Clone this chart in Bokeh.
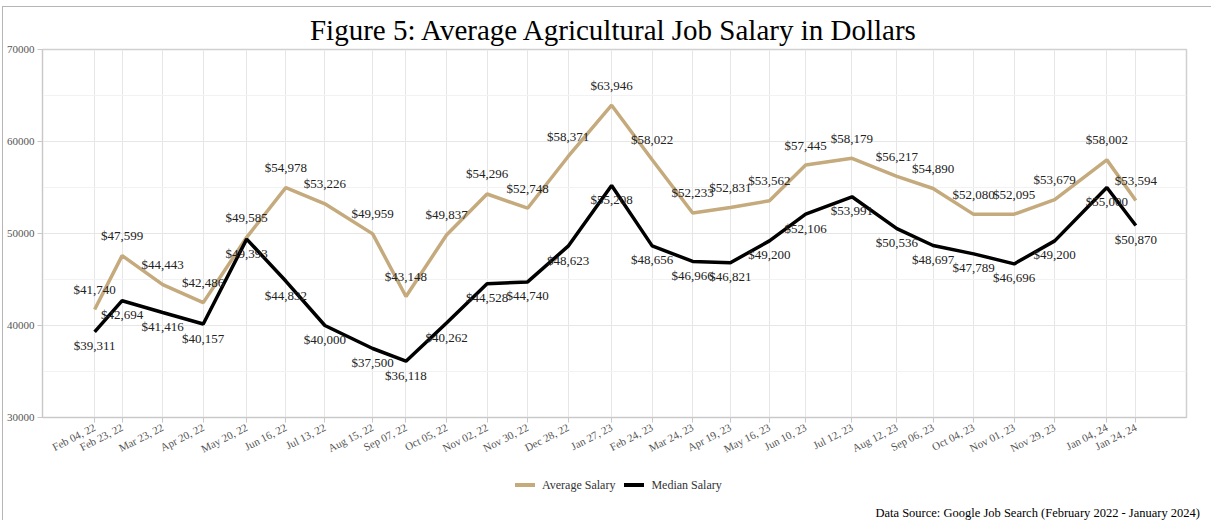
import pandas as pd
from bokeh.plotting import figure
from bokeh.layouts import column
from bokeh.models import (ColumnDataSource, FixedTicker, DatetimeTickFormatter, Range1d,
                          Div, SingleIntervalTicker)
from bokeh.core.properties import value
from bokeh.embed import file_html
from bokeh.resources import INLINE

dates = ["2022-02-04", "2022-02-23", "2022-03-23", "2022-04-20", "2022-05-20", "2022-06-16",
         "2022-07-13", "2022-08-15", "2022-09-07", "2022-10-05", "2022-11-02", "2022-11-30",
         "2022-12-28", "2023-01-27", "2023-02-24", "2023-03-24", "2023-04-19", "2023-05-16",
         "2023-06-10", "2023-07-12", "2023-08-12", "2023-09-06", "2023-10-04", "2023-11-01",
         "2023-11-29", "2024-01-04", "2024-01-24"]
average_salary = [41740, 47599, 44443, 42486, 49585, 54978, 53226, 49959, 43148, 49837, 54296,
                  52748, 58371, 63946, 58022, 52233, 52831, 53562, 57445, 58179, 56217, 54890,
                  52080, 52095, 53679, 58002, 53594]
median_salary = [39311, 42694, 41416, 40157, 49393, 44832, 40000, 37500, 36118, 40262, 44528,
                 44740, 48623, 55208, 48656, 46966, 46821, 49200, 52106, 53991, 50536, 48697,
                 47789, 46696, 49200, 55000, 50870]
series_names = ["Average Salary", "Median Salary"]
title_text = "Figure 5: Average Agricultural Job Salary in Dollars"
source_text = "Data Source: Google Job Search (February 2022 - January 2024)"

FONT = "Liberation Serif"
AVG_COLOR = "#c4aa7c"
MED_COLOR = "#000000"
LINE_W = 3.5
colors = [AVG_COLOR, MED_COLOR]

x = pd.to_datetime(dates)
src = ColumnDataSource(dict(
    x=x, avg=average_salary, med=median_salary,
    avg_lbl=[f"${v:,}" for v in average_salary],
    med_lbl=[f"${v:,}" for v in median_salary],
))

x_start = x[0] - pd.Timedelta(days=36)
x_end = x[-1] + pd.Timedelta(days=35)

W = 1208
p = figure(width=W, height=458, output_backend="svg", toolbar_location=None,
           x_axis_type="datetime",
           x_range=Range1d(x_start, x_end), y_range=Range1d(30000, 70000),
           min_border_left=39, min_border_right=25, min_border_top=42, min_border_bottom=48)

p.title.text = title_text
p.title.text_font = FONT
p.title.text_font_size = "29px"
p.title.text_font_style = "normal"
p.title.text_color = "#000000"
p.title.align = "center"
p.title.standoff = 7

p.outline_line_color = "#d0d0d0"
p.outline_line_width = 1.5

# axes
p.xaxis.ticker = FixedTicker(ticks=[d.value / 1e6 for d in x])
fmt = "%b %d, %y"
p.xaxis.formatter = DatetimeTickFormatter(milliseconds=fmt, seconds=fmt, minsec=fmt, minutes=fmt,
                                          hourmin=fmt, hours=fmt, days=fmt, months=fmt, years=fmt)
p.xaxis.major_label_orientation = 0.47
p.yaxis.ticker = SingleIntervalTicker(interval=10000, num_minor_ticks=2)
for ax in (p.xaxis, p.yaxis):
    ax.axis_line_color = "#c8c8c8"
    ax.major_tick_line_color = "#c8c8c8"
    ax.minor_tick_line_color = None
    ax.major_tick_out = 5
    ax.major_tick_in = 0
    ax.major_label_text_font = FONT
    ax.major_label_text_font_size = "11px"
    ax.major_label_text_color = "#555555"
p.yaxis.major_label_standoff = 3
p.xaxis.major_label_standoff = 4

p.xgrid.grid_line_color = "#e6e6e6"
p.ygrid.grid_line_color = "#e6e6e6"
p.ygrid.minor_grid_line_color = "#f2f2f2"

p.line("x", "avg", source=src, line_color=AVG_COLOR, line_width=LINE_W)
p.line("x", "med", source=src, line_color=MED_COLOR, line_width=LINE_W)

p.text("x", "avg", text="avg_lbl", source=src, text_font=value(FONT), text_font_size="13px",
       text_color="#222222", text_align="center", text_baseline="middle", y_offset=-20)
p.text("x", "med", text="med_lbl", source=src, text_font=value(FONT), text_font_size="13px",
       text_color="#222222", text_align="center", text_baseline="middle", y_offset=14)

# footer: legend + data source note
items_html = ""
for i, (name, c) in enumerate(zip(series_names, colors)):
    ml = "9px" if i > 0 else "0px"
    items_html += (f'<span style="display:inline-block;width:20px;height:4px;background:{c};'
                   f'margin-left:{ml};margin-right:7px;vertical-align:middle;"></span>'
                   f'<span style="vertical-align:middle;">{name}</span>')
footer_html = (
    f'<div style="position:relative;width:{W}px;height:55px;font-family:\'{FONT}\';">'
    f'<div style="position:absolute;left:512px;top:11px;font-size:12px;line-height:16px;'
    f'color:#333333;white-space:nowrap;">{items_html}</div>'
    f'<div style="position:absolute;right:11px;top:40px;font-size:12.5px;line-height:16px;'
    f'color:#000000;white-space:nowrap;">{source_text}</div>'
    f'</div>'
)
footer = Div(text=footer_html, width=W, height=55, margin=0)

layout = column(p, footer, spacing=0)
layout.styles = {"border-top": "1px solid #b5b5b5", "border-left": "1px solid #b5b5b5",
                 "margin-left": "2px", "margin-top": "6px"}

open("out.html", "w").write(file_html(layout, INLINE))
